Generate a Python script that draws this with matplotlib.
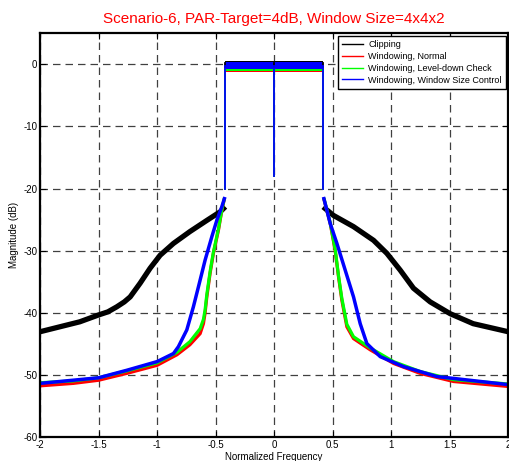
import numpy as np
import matplotlib
matplotlib.use("Agg")
import matplotlib.pyplot as plt

plt.rcParams['font.family'] = ['Liberation Sans', 'DejaVu Sans']
plt.rcParams['axes.unicode_minus'] = False

# ==============================
# Data (dB vs normalized frequency)
# ==============================
band_edge = 0.42
notch_db = -18.0
edge_db = -20.0

# Clipping
blk_left_f = [-2.0, -1.83, -1.66, -1.50, -1.42, -1.345, -1.28, -1.23, -1.145, -1.06, -0.974, -0.86, -0.72, -0.575, -0.46, -0.433]
blk_left_db = [-43.0, -42.2, -41.4, -40.3, -39.8, -39.0, -38.2, -37.4, -35.2, -32.8, -30.7, -28.8, -26.9, -25.1, -23.7, -23.2]
blk_right_f = [0.436, 0.507, 0.678, 0.849, 0.963, 1.077, 1.19, 1.333, 1.504, 1.70, 2.0]
blk_right_db = [-23.2, -24.3, -26.1, -28.3, -30.4, -33.1, -36.0, -38.2, -40.1, -41.7, -43.0]
blk_band = [-0.2, 0.6]

# Windowing, Normal
red_left_f = [-2.0, -1.715, -1.5, -1.26, -1.0, -0.83, -0.72, -0.632, -0.604, -0.59, -0.575, -0.547, -0.519, -0.476, -0.447, -0.427]
red_left_db = [-51.7, -51.3, -50.8, -49.7, -48.4, -46.7, -45.1, -43.3, -41.7, -40.0, -37.4, -33.6, -30.4, -26.7, -23.5, -21.8]
red_right_f = [0.427, 0.479, 0.521, 0.55, 0.578, 0.621, 0.678, 0.82, 1.02, 1.248, 1.532, 2.0]
red_right_db = [-21.8, -25.6, -29.9, -34.2, -37.9, -42.2, -44.1, -45.9, -48.1, -49.7, -51.0, -51.8]
red_band = [-1.2, -0.4]

# Windowing, Level-down Check
grn_left_f = [-2.0, -1.715, -1.5, -1.26, -1.0, -0.83, -0.72, -0.632, -0.604, -0.59, -0.575, -0.547, -0.519, -0.476, -0.447, -0.427]
grn_left_db = [-51.2, -50.9, -50.4, -49.3, -48.0, -46.3, -44.6, -42.5, -41.0, -39.5, -37.0, -33.3, -30.2, -26.5, -23.4, -21.7]
grn_right_f = [0.427, 0.479, 0.521, 0.55, 0.578, 0.621, 0.678, 0.82, 1.02, 1.248, 1.532, 2.0]
grn_right_db = [-21.7, -25.5, -29.7, -34.0, -37.6, -41.8, -43.8, -45.6, -47.8, -49.4, -50.7, -51.4]
grn_band = [-1.0, -0.4]

# Windowing, Window Size Control
blu_left_f = [-2.0, -1.5, -1.26, -1.0, -0.86, -0.818, -0.746, -0.69, -0.647, -0.59, -0.532, -0.49, -0.447, -0.425]
blu_left_db = [-51.3, -50.4, -49.2, -47.8, -46.5, -45.4, -42.7, -39.0, -35.8, -31.5, -27.7, -25.1, -22.9, -21.6]
blu_right_f = [0.425, 0.479, 0.536, 0.607, 0.678, 0.735, 0.792, 0.906, 1.105, 1.39, 2.0]
blu_right_db = [-21.6, -25.6, -28.8, -33.1, -37.4, -41.7, -44.9, -47.0, -48.6, -50.2, -51.5]
blu_band = [-0.8, 0.3]

labels = ["Clipping", "Windowing, Normal", "Windowing, Level-down Check",
          "Windowing, Window Size Control"]
colors = ["black", "red", "#00ff00", "blue"]
skirt_widths = [3.8, 2.3, 2.3, 2.5]

series = [
    (blk_left_f, blk_left_db, blk_right_f, blk_right_db, blk_band),
    (red_left_f, red_left_db, red_right_f, red_right_db, red_band),
    (grn_left_f, grn_left_db, grn_right_f, grn_right_db, grn_band),
    (blu_left_f, blu_left_db, blu_right_f, blu_right_db, blu_band),
]

# ==============================
# Plot
# ==============================
fig = plt.figure(figsize=(5.09, 4.61), dpi=100)
ax = fig.add_axes([0.0786, 0.051, 0.92, 0.877])
ax.set_axisbelow(True)

for (lf, ldb, rf, rdb, band), c, lw, lab in zip(series, colors, skirt_widths, labels):
    mid = np.mean(band)
    # skirts (noisy band drawn as a thick line)
    ax.plot(lf, ldb, color=c, lw=lw, label=lab, solid_joinstyle='round')
    ax.plot(rf, rdb, color=c, lw=lw, solid_joinstyle='round')
    # passband edges and centre notch
    ax.plot([-band_edge, -band_edge], [edge_db, mid], color=c, lw=1.3)
    ax.plot([band_edge, band_edge], [edge_db, mid], color=c, lw=1.3)
    ax.plot([0, 0], [notch_db, mid], color=c, lw=1.3)
    # flat passband noise band
    ax.fill_between([-band_edge, band_edge], band[0], band[1], color=c, lw=0)

ax.set_xlim(-2, 2)
ax.set_ylim(-60, 5)
ax.set_xticks([-2, -1.5, -1, -0.5, 0, 0.5, 1, 1.5, 2])
ax.set_xticklabels(["-2", "-1.5", "-1", "-0.5", "0", "0.5", "1", "1.5", "2"])
ax.set_yticks([-60, -50, -40, -30, -20, -10, 0])
ax.tick_params(direction='in', top=True, right=True, labelsize=7, length=4, pad=2)
ax.grid(True, color='0.25', linestyle=(0, (6, 4)), lw=0.9)
for sp in ax.spines.values():
    sp.set_linewidth(1.6)

ax.set_xlabel("Normalized Frequency", fontsize=7, labelpad=1)
ax.set_ylabel("Magnitude (dB)", fontsize=7, labelpad=3)
ax.set_title("Scenario-6, PAR-Target=4dB, Window Size=4x4x2", color='red', fontsize=11, pad=7)

leg = ax.legend(loc='upper right', fontsize=6.5, handlelength=2.3, handletextpad=0.6,
                labelspacing=0.32, borderpad=0.45, borderaxespad=0.3, fancybox=False,
                framealpha=1, edgecolor='black')
leg.get_frame().set_linewidth(1.0)
for line in leg.get_lines():
    line.set_linewidth(1.0)

plt.savefig("out.png", dpi=100)
plt.close()
